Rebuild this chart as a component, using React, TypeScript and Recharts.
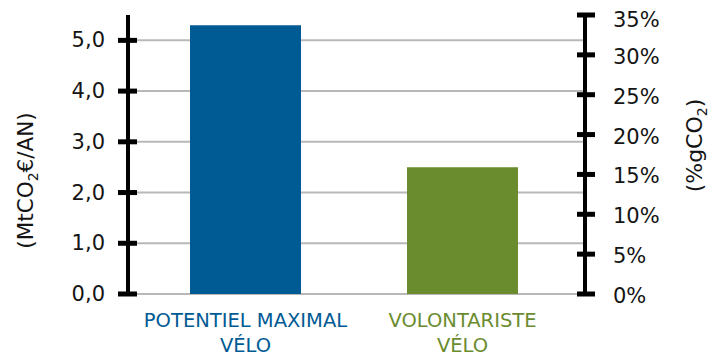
import React from "react";
import {
    BarChart,
    Bar,
    XAxis,
    YAxis,
    CartesianGrid,
    Cell,
} from "recharts";

const categories = ["POTENTIEL MAXIMAL\nVÉLO", "VOLONTARISTE\nVÉLO"];
const emissions = [5.3, 2.5];
const leftTicks = [0, 1, 2, 3, 4, 5];
const rightTicks = [0, 0.05, 0.1, 0.15, 0.2, 0.25, 0.3, 0.35];

const barColors = ["#005a94", "#6a8c2f"];
const FONT = "'DejaVu Sans', Verdana, sans-serif";
const TEXT = "#141414";

const L_SIZE = 10;
const L_MARGIN = 13;
const R_SIZE = 10;
const R_MARGIN = 18;

const chartData = categories.map((name, i) => ({
    name,
    value: emissions[i],
}));

const fmtLeft = (v: number) => v.toFixed(1).replace(".", ",");
const fmtRight = (v: number) => `${Math.round(v * 100)}%`;

const LeftTick = (props: any) => {
    const { x, y, payload } = props;
    const ax = x + L_SIZE + L_MARGIN;
    return (
        <g>
            <line x1={ax - 10} x2={ax + 9} y1={y} y2={y} stroke="#000" strokeWidth={5} />
            <text x={x} y={y} dy={7} textAnchor="end" fontSize={21} fontFamily={FONT} fill={TEXT}>
                {fmtLeft(payload.value)}
            </text>
        </g>
    );
};

const RightTick = (props: any) => {
    const { x, y, payload, index } = props;
    const ax = x - R_SIZE - R_MARGIN;
    // the top label sits a little lower than its tick, as in the original
    const shift = index === rightTicks.length - 1 ? 5 : 2;
    return (
        <g>
            <line x1={ax - 8} x2={ax + 10} y1={y} y2={y} stroke="#000" strokeWidth={5} />
            <text x={x} y={y} dy={7 + shift} textAnchor="start" fontSize={21} fontFamily={FONT} fill={TEXT}>
                {fmtRight(payload.value)}
            </text>
        </g>
    );
};

const CategoryTick = (props: any) => {
    const { x, y, payload, index } = props;
    const lines = String(payload.value).split("\n");
    return (
        <text x={x} y={y} textAnchor="middle" fontSize={19.5} fontFamily={FONT} fill={barColors[index % barColors.length]}>
            {lines.map((line, i) => (
                <tspan key={i} x={x} dy={i === 0 ? 19 : 25}>
                    {line}
                </tspan>
            ))}
        </text>
    );
};

const LeftTitle = (props: any) => {
    const vb = props.viewBox;
    const cx = vb.x + 33;
    const cy = vb.y + vb.height / 2 + 26;
    return (
        <text x={cx} y={cy} textAnchor="middle" transform={`rotate(-90, ${cx}, ${cy})`} fontSize={21.5} fontFamily={FONT} fill={TEXT}>
            (MtCO
            <tspan dy={5} fontSize={14}>2</tspan>
            <tspan dy={-5}>€/AN)</tspan>
        </text>
    );
};

const RightTitle = (props: any) => {
    const vb = props.viewBox;
    const cx = vb.x + 117;
    const cy = vb.y + vb.height / 2 - 9;
    return (
        <text x={cx} y={cy} textAnchor="middle" transform={`rotate(-90, ${cx}, ${cy})`} fontSize={22} fontFamily={FONT} fill={TEXT}>
            (%gCO
            <tspan dy={5} fontSize={14}>2</tspan>
            <tspan dy={-5}>)</tspan>
        </text>
    );
};

const App: React.FC = () => {
    return (
        <div style={{ position: "absolute", left: 0, top: 0, background: "#fff" }}>
            <BarChart
                width={724}
                height={356}
                data={chartData}
                margin={{ top: 15, right: 0, bottom: 0, left: 0 }}
            >
                <CartesianGrid
                    yAxisId="left"
                    vertical={false}
                    horizontalValues={leftTicks}
                    stroke="#b8b8b8"
                    strokeWidth={2}
                />
                <XAxis
                    dataKey="name"
                    height={62}
                    axisLine={false}
                    tickLine={false}
                    tickSize={0}
                    tickMargin={14}
                    padding={{ left: 9, right: 14 }}
                    tick={<CategoryTick />}
                    interval={0}
                />
                <YAxis
                    yAxisId="left"
                    orientation="left"
                    width={128}
                    domain={[0, 5.5]}
                    ticks={leftTicks}
                    allowDataOverflow
                    axisLine={{ stroke: "#000", strokeWidth: 4 }}
                    tickLine={false}
                    tickSize={L_SIZE}
                    tickMargin={L_MARGIN}
                    tick={<LeftTick />}
                    label={LeftTitle}
                />
                <YAxis
                    yAxisId="right"
                    orientation="right"
                    width={139}
                    domain={[0, 0.35]}
                    ticks={rightTicks}
                    allowDataOverflow
                    axisLine={{ stroke: "#000", strokeWidth: 4 }}
                    tickLine={false}
                    tickSize={R_SIZE}
                    tickMargin={R_MARGIN}
                    tick={<RightTick />}
                    label={RightTitle}
                />
                <Bar yAxisId="left" dataKey="value" barSize={111} isAnimationActive={false}>
                    {chartData.map((_, i) => (
                        <Cell key={i} fill={barColors[i]} />
                    ))}
                </Bar>
            </BarChart>
        </div>
    );
};

export default App;
